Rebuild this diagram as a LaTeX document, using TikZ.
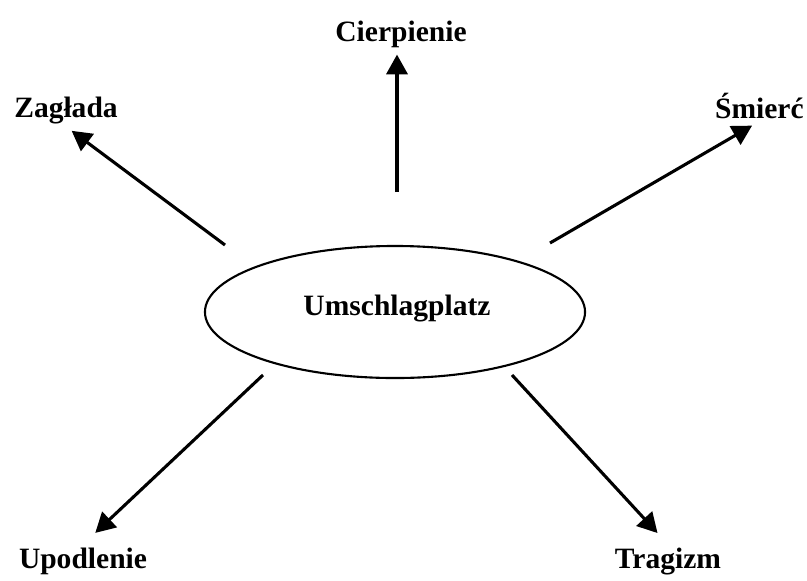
\documentclass[tikz,border=0pt]{standalone}
\usepackage{fontspec}
\setmainfont{Liberation Serif}
\usepackage{tikz}
\usetikzlibrary{shapes.geometric, arrows.meta, positioning}

\begin{document}
\begin{tikzpicture}[
    x=0.025cm, y=-0.025cm,
    hub/.style={ellipse, draw=black, line width=1.5pt, minimum width=9.5cm, minimum height=3.3cm, inner sep=0pt, font=\fontsize{22}{26}\selectfont\bfseries},
    concept/.style={inner sep=2pt, font=\fontsize{21}{25}\selectfont\bfseries},
    arrow/.style={-{Triangle[length=14pt, width=15pt]}, line width=2.2pt}
]
\useasboundingbox (0,0) rectangle (807,580);

% Centre
\node[hub] (umschlag) at (395,312) {};
\node[concept, anchor=base] (umschlagtxt) at (397,315) {Umschlagplatz};

% Concepts
\node[concept, anchor=base] (cierpienie) at (401,41) {Cierpienie};
\node[concept, anchor=base] (zaglada) at (66,117) {Zagłada};
\node[concept, anchor=base west] (smierc) at (712,118) {Śmierć};
\node[concept, anchor=base] (upodlenie) at (83,568) {Upodlenie};
\node[concept, anchor=base] (tragizm) at (668,568) {Tragizm};

% Arrow tails
\coordinate (tcier) at (397,192);
\coordinate (tzag) at (225,245);
\coordinate (tsmi) at (550,243);
\coordinate (tupo) at (263,375);
\coordinate (ttra) at (512,375);

% Arrows
\draw[arrow, shorten >=3pt] (tcier) -- (tcier |- cierpienie.south);
\draw[arrow, shorten >=5pt] (tzag) -- (zaglada.south);
\draw[arrow, shorten >=6pt] (tsmi) -- (smierc.south);
\draw[arrow, shorten >=12pt] (tupo) -- (upodlenie.north);
\draw[arrow, shorten >=11pt] (ttra) -- (tragizm.north);

\end{tikzpicture}
\end{document}
